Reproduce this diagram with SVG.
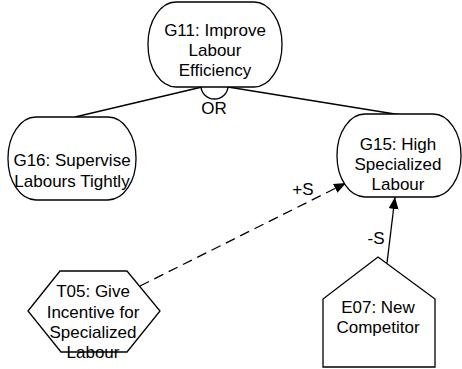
<svg xmlns="http://www.w3.org/2000/svg" width="462" height="369" viewBox="0 0 462 369">
<style>
.shape{fill:#fff;stroke:#000;stroke-width:1.3}
.t{font-family:"Liberation Sans",Arial,sans-serif;font-size:17px;fill:#000;text-anchor:middle}
.c{fill:none;stroke:#000;stroke-width:1.3}
.d{stroke-dasharray:10,6}
</style>
<defs>
<marker id="ah" markerUnits="userSpaceOnUse" markerWidth="13" markerHeight="11" refX="12" refY="5" orient="auto">
<path d="M0,0 L12,5 L0,10 z" fill="#000"/>
</marker>
</defs>
<rect width="462" height="369" fill="#fff"/>
<g id="connectors">
<line class="c" x1="202" y1="87" x2="75" y2="117"/>
<line class="c" x1="228" y1="87" x2="401" y2="115"/>
<path class="c" d="M201,86 A13.5,13 0 0 0 228,86"/>
<text class="t" x="214" y="114">OR</text>
<line class="c d" x1="140" y1="286" x2="346" y2="183" marker-end="url(#ah)"/>
<text class="t" x="303" y="195">+S</text>
<line class="c" x1="387" y1="263" x2="395" y2="197" marker-end="url(#ah)"/>
<text class="t" x="376" y="244">-S</text>
</g>
<g id="G11">
<rect class="shape" x="148" y="2" width="134" height="85" rx="28" ry="42"/>
<text class="t" x="215" y="36">G11: Improve</text>
<text class="t" x="215" y="56">Labour</text>
<text class="t" x="215" y="76">Efficiency</text>
</g>
<g id="G16">
<rect class="shape" x="8" y="117" width="128" height="83" rx="28" ry="41"/>
<text class="t" x="72" y="166">G16: Supervise</text>
<text class="t" x="72" y="187">Labours Tightly</text>
</g>
<g id="G15">
<rect class="shape" x="337" y="114" width="124" height="83" rx="28" ry="41"/>
<text class="t" x="398" y="150">G15: High</text>
<text class="t" x="398" y="170">Specialized</text>
<text class="t" x="398" y="190">Labour</text>
</g>
<g id="T05">
<polygon class="shape" points="28,311 60,271 127,271 160,311 127,352 61,352"/>
<text class="t" x="93" y="297">T05: Give</text>
<text class="t" x="93" y="318">Incentive for</text>
<text class="t" x="93" y="338">Specialized</text>
<text class="t" x="93" y="358">Labour</text>
</g>
<g id="E07">
<polygon class="shape" points="378,257 435,299 435,367 323,367 323,299"/>
<text class="t" x="378" y="313">E07: New</text>
<text class="t" x="378" y="333">Competitor</text>
</g>
</svg>
